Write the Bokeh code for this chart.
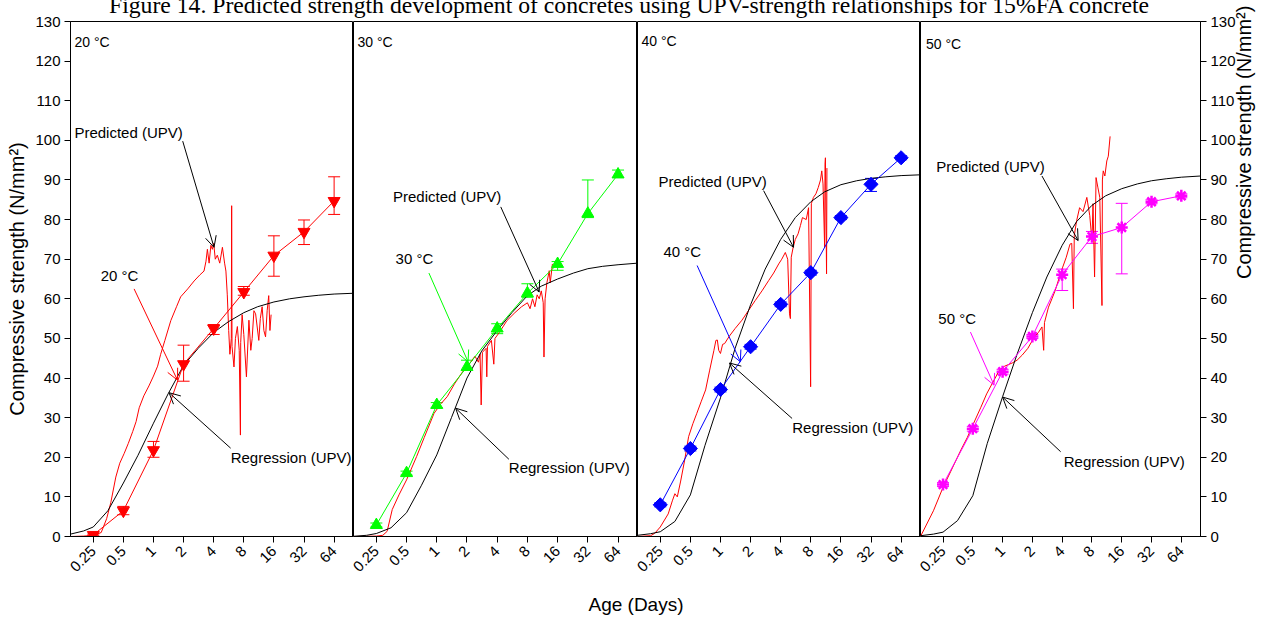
import math
from bokeh.plotting import figure
from bokeh.models import (ColumnDataSource, FixedTicker, CustomJSTickFormatter, Whisker, TeeHead,
                          Arrow, OpenHead, Label, Div, Range1d)
from bokeh.layouts import row, column
from bokeh.embed import file_html
from bokeh.resources import INLINE

FONT = "Liberation Sans"
TITLE = "Figure 14. Predicted strength development of concretes using UPV-strength relationships for 15%FA concrete"
Y_LABEL = "Compressive strength (N/mm²)"

# ---------------- data ----------------
ages = [0.25, 0.5, 1, 2, 4, 8, 16, 32, 64]
age_tick_labels = ["0.25", "0.5", "1", "2", "4", "8", "16", "32", "64"]
y_ticks = list(range(0, 131, 10))

# measured compressive strength (mean, lower, upper)
str_20 = [0.4, 6.5, 21.8, 43.5, 52.5, 61.7, 70.9, 76.9, 84.7]
lo_20 = [0.2, 5.5, 20.0, 39.2, 51.0, 60.9, 65.7, 73.7, 81.3]
hi_20 = [0.6, 7.6, 24.0, 48.3, 53.5, 63.1, 75.9, 79.9, 90.8]

str_30 = [2.9, 16.0, 33.2, 42.8, 52.5, 61.4, 68.8, 81.5, 91.4]
lo_30 = [2.4, 15.5, 32.5, 42.0, 51.2, 60.4, 67.2, 80.5, 90.6]
hi_30 = [3.4, 16.5, 33.8, 44.5, 53.7, 63.8, 69.4, 90.0, 92.5]

str_40 = [8.0, 22.2, 37.1, 47.9, 58.6, 66.6, 80.5, 88.9, 95.6]
lo_40 = [7.5, 21.6, 36.5, 47.3, 58.0, 66.0, 80.0, 87.1, 95.1]
hi_40 = [8.5, 22.8, 37.7, 48.5, 59.2, 67.2, 81.0, 90.4, 96.1]

str_50 = [13.1, 27.2, 41.6, 50.5, 66.1, 75.7, 78.0, 84.5, 86.0]
lo_50 = [12.6, 26.6, 41.0, 50.0, 62.1, 74.0, 66.3, 84.0, 85.5]
hi_50 = [13.6, 27.8, 42.2, 51.0, 67.5, 77.0, 84.1, 85.0, 86.5]

# regression (UPV) curves
reg_age = [0.148, 0.2, 0.25, 0.35, 0.5, 0.7, 1, 1.4, 2, 2.8, 4, 5.6, 8, 11, 16, 23, 32, 45, 64, 100]
reg_20 = [0.6, 1.4, 2.4, 6.5, 13.5, 20.5, 28.6, 36.0, 43.2, 47.5, 51.5, 54.2, 56.5, 58.0, 59.2, 60.0, 60.5, 60.9, 61.2, 61.4]
reg_30 = [0.05, 0.3, 0.75, 2.2, 6.0, 12.8, 20.6, 30.0, 40.0, 46.8, 52.0, 56.5, 60.8, 63.2, 65.0, 66.5, 67.6, 68.2, 68.6, 69.0]
reg_40 = [0.3, 0.7, 1.2, 3.8, 10.5, 23.0, 35.0, 47.5, 58.5, 67.5, 75.0, 80.5, 84.5, 87.0, 88.8, 89.8, 90.4, 90.8, 91.1, 91.3]
reg_50 = [0.2, 0.6, 1.1, 4.0, 10.3, 23.5, 35.3, 46.0, 56.5, 65.5, 73.5, 79.5, 83.6, 86.0, 87.8, 89.0, 89.8, 90.3, 90.7, 91.0]

# predicted (UPV) traces
pred_age_20 = [0.148, 0.2, 0.25, 0.3, 0.34, 0.374, 0.42, 0.46, 0.51, 0.56, 0.62, 0.67, 0.72, 0.8, 0.9, 1.0,
               1.1, 1.18, 1.3, 1.49, 1.7, 1.87, 2.2, 2.55, 2.9, 3.2, 3.35, 3.46, 3.6, 3.75, 3.88, 4.0, 4.15,
               4.35, 4.6, 4.89, 5.14, 5.3, 5.47, 5.65, 5.81, 6.0, 6.05, 6.1, 6.38, 6.6, 6.9, 7.2, 7.4, 7.45,
               7.7, 8.0, 8.5, 9.0, 9.4, 9.7, 10.1, 10.5, 11.3, 11.7, 12.2, 12.7, 13.2, 13.7, 14.2, 14.6, 15.0]
pred_20 = [0.0, 0.1, 0.3, 1.0, 4.5, 8.5, 15.0, 18.5, 21.0, 23.5, 26.5, 29.0, 32.5, 35.5, 38.0, 40.5,
           43.0, 46.0, 49.5, 54.5, 58.0, 60.5, 62.5, 64.5, 66.0, 67.0, 69.5, 72.5, 69.0, 73.5, 72.5, 74.0, 70.0,
           71.0, 69.0, 73.0, 69.0, 67.0, 61.0, 52.0, 46.0, 50.0, 83.5, 48.0, 42.8, 50.0, 53.0, 47.0, 25.6, 49.0,
           56.0, 51.0, 40.3, 54.6, 47.0, 50.0, 57.0, 56.2, 49.5, 55.0, 58.0, 52.0, 50.4, 57.0, 60.8, 52.0, 56.0]

pred_age_30 = [0.148, 0.25, 0.29, 0.32, 0.36, 0.42, 0.5, 0.63, 0.75, 0.94, 1.1, 1.27, 1.5, 1.8, 2.1, 2.4,
               2.6, 2.7, 2.77, 2.85, 3.1, 3.15, 3.2, 3.5, 3.7, 3.8, 4.2, 5.0, 6.0, 7.0, 8.0, 8.5, 9.0, 9.5,
               10.0, 10.5, 11.0, 11.5, 11.7, 12.0, 12.5, 13.2, 13.5, 14.2]
pred_30 = [0.0, 0.1, 0.3, 1.3, 6.8, 10.5, 14.3, 20.2, 25.0, 31.1, 33.5, 35.3, 38.5, 41.5, 43.5, 45.5,
           44.0, 46.0, 33.2, 46.5, 47.5, 40.3, 48.0, 49.5, 43.5, 50.0, 51.5, 54.5, 56.5, 58.0, 59.0, 57.5, 60.0, 58.0,
           61.0, 60.0, 62.0, 59.0, 45.3, 60.0, 64.0, 67.1, 64.0, 68.8]

pred_age_40 = [0.148, 0.2, 0.22, 0.25, 0.3, 0.33, 0.35, 0.37, 0.4, 0.44, 0.48, 0.53, 0.58, 0.64, 0.71, 0.78,
               0.86, 0.9, 0.93, 0.96, 1.0, 1.05, 1.1, 1.22, 1.4, 1.64, 1.9, 2.23, 2.6, 3.03, 3.4, 3.82, 4.1,
               4.45, 4.7, 4.9, 5.0, 5.1, 5.33, 5.6, 5.97, 6.3, 6.6, 7.2, 7.6, 7.97, 8.1, 8.5, 9.0, 9.5, 10.0,
               10.3, 10.6, 11.0, 11.1, 11.2, 11.5, 11.6]
pred_40 = [0.0, 0.2, 0.8, 2.4, 5.7, 9.0, 10.8, 10.0, 14.0, 19.5, 25.2, 28.5, 31.1, 34.0, 37.0, 42.0,
           47.0, 49.5, 49.6, 47.0, 46.2, 48.5, 48.7, 50.5, 52.5, 54.6, 57.0, 59.6, 62.0, 64.6, 66.5, 68.8, 70.0,
           71.7, 70.0, 56.2, 55.0, 70.5, 73.0, 75.0, 76.4, 78.5, 80.5, 80.0, 83.0, 37.8, 84.0, 85.6, 86.5, 88.1, 90.0,
           92.3, 89.0, 73.0, 94.0, 95.6, 66.3, 93.0]

pred_age_50 = [0.148, 0.2, 0.25, 0.3, 0.38, 0.44, 0.51, 0.6, 0.69, 0.8, 0.93, 1.05, 1.25, 1.4, 1.58, 1.8,
               2.1, 2.3, 2.5, 2.6, 2.65, 2.91, 3.15, 3.4, 3.7, 4.05, 4.4, 4.8, 5.0, 5.2, 5.3, 5.6, 6.0, 6.5,
               7.1, 7.6, 8.0, 8.2, 8.5, 8.8, 9.2, 9.6, 10.1, 10.2, 10.4, 10.8, 11.3, 11.7, 12.2]
pred_50 = [0.0, 6.5, 12.4, 16.5, 21.9, 25.0, 28.6, 32.5, 36.0, 39.0, 42.0, 43.0, 43.8, 44.5, 45.8, 47.5,
           50.4, 51.5, 52.9, 47.0, 54.0, 57.9, 60.0, 62.1, 65.0, 68.0, 70.5, 73.8, 74.0, 57.5, 76.0, 79.7, 83.0, 82.0,
           85.6, 81.0, 74.7, 84.0, 65.5, 90.6, 88.0, 85.6, 58.3, 90.0, 92.3, 91.0, 94.8, 96.0, 101.0]

panel_temps = ["20 °C", "30 °C", "40 °C", "50 °C"]
series_colors = ["#ff0000", "#00ff00", "#0000ff", "#ff00ff"]

# annotation anchor points (age in days, strength)
pred_text_pos = [(0.162, 102.1), (0.366, 85.7), (0.24, 89.5), (0.214, 93.5)]
pred_arrow = [(1.96, 99.8, 4.03, 73.0), (4.34, 83.2, 10.48, 61.7), (2.7, 87.3, 5.38, 73.0), (2.5, 91.0, 5.8, 74.7)]
temp_text_pos = [(0.297, 65.9), (0.389, 70.2), (0.269, 71.9), (0.224, 55.1)]
temp_arrow = [(0.64, 62.5, 1.735, 39.5), (0.835, 66.5, 2.05, 44.1), (0.584, 68.4, 1.58, 44.1), (0.473, 51.6, 0.82, 38.2)]
reg_text_pos = [(5.91, 19.9), (5.22, 17.3), (5.22, 27.4), (4.15, 18.9)]
reg_arrow = [(5.91, 22.3, 1.43, 36.3), (5.23, 19.5, 1.54, 32.4), (5.2, 29.8, 1.23, 43.8), (3.86, 21.4, 1.0, 35.2)]
label_pos = [(0.162, 124.7), (0.162, 124.7), (0.162, 125.0), (0.168, 124.2)]

means = [str_20, str_30, str_40, str_50]
lows = [lo_20, lo_30, lo_40, lo_50]
highs = [hi_20, hi_30, hi_40, hi_50]
regs = [reg_20, reg_30, reg_40, reg_50]
pred_ages = [pred_age_20, pred_age_30, pred_age_40, pred_age_50]
preds = [pred_20, pred_30, pred_40, pred_50]

# ---------------- layout geometry ----------------
BT, FH, BB = 19, 515, 54
H = BT + FH + BB
OV = 14                      # overlap of panels 2-4 into the previous panel's area (transparent)
frame_w = [283, 284, 283, 285]
left_b = [70, OV, OV, OV]
right_b = [0, 0, 0, 63]

tick_fmt_code = "const i = tvals.indexOf(tick); return i >= 0 ? tlabels[i] : String(tick);"


def style_text(lbl, size="15px"):
    lbl.text_font = FONT
    lbl.text_font_size = size
    lbl.text_color = "black"
    lbl.text_baseline = "middle"
    lbl.text_align = "left"


figs = []
for k in range(4):
    yloc = "left" if k == 0 else ("right" if k == 3 else None)
    p = figure(width=left_b[k] + frame_w[k] + right_b[k], height=H, x_axis_type="log", y_axis_location=yloc,
               x_range=Range1d(0.148, 100), y_range=Range1d(0, 130),
               output_backend="svg", toolbar_location=None,
               min_border_top=BT, min_border_bottom=BB,
               min_border_left=left_b[k], min_border_right=right_b[k])
    if k > 0:
        p.margin = (0, 0, 0, -OV)
    p.border_fill_color = None
    p.outline_line_color = "black"
    p.outline_line_width = 1
    p.outline_line_alpha = 1
    p.grid.visible = False
    p.background_fill_color = "white"

    xa = p.xaxis[0]
    xa.ticker = FixedTicker(ticks=ages)
    xa.formatter = CustomJSTickFormatter(args=dict(tvals=ages, tlabels=age_tick_labels), code=tick_fmt_code)
    xa.major_label_orientation = math.pi / 4
    xa.minor_tick_line_color = None
    xa.major_tick_in = 0
    xa.major_tick_out = 6
    xa.major_label_standoff = 6
    xa.axis_line_color = "black"
    xa.major_tick_line_color = "black"
    xa.major_label_text_font = FONT
    xa.major_label_text_font_size = "15px"
    xa.major_label_text_color = "black"

    if yloc is not None:
        ya = p.yaxis[0]
        ya.ticker = FixedTicker(ticks=y_ticks)
        ya.minor_tick_line_color = None
        ya.major_tick_in = 0
        ya.major_tick_out = 6
        ya.major_label_standoff = 4
        ya.axis_line_color = "black"
        ya.major_label_text_font = FONT
        ya.major_label_text_font_size = "15px"
        ya.major_label_text_color = "black"
        ya.axis_label = Y_LABEL
        ya.axis_label_text_font = FONT
        ya.axis_label_text_font_size = "20px"
        ya.axis_label_text_font_style = "normal"
        ya.axis_label_text_color = "black"
        if k == 0:
            ya.axis_label_standoff = 4
        else:
            ya.axis_label_standoff = 5
            ya.axis_label_orientation = math.pi / 2

    col = series_colors[k]
    # predicted (UPV) trace
    p.line(pred_ages[k], preds[k], line_color="#ff0000", line_width=1)
    # regression curve
    p.line(reg_age, regs[k], line_color="black", line_width=1)

    src = ColumnDataSource(dict(age=ages, s=means[k], lo=lows[k], hi=highs[k]))
    p.add_layout(Whisker(source=src, base="age", lower="lo", upper="hi", line_color=col, line_width=1,
                         upper_head=TeeHead(size=12, line_color=col, line_width=1),
                         lower_head=TeeHead(size=12, line_color=col, line_width=1)))
    p.line("age", "s", source=src, line_color=col, line_width=1)
    if k == 0:
        p.scatter("age", "s", source=src, marker="inverted_triangle", size=12, fill_color=col, line_color=col)
    elif k == 1:
        p.scatter("age", "s", source=src, marker="triangle", size=12, fill_color=col, line_color=col)
    elif k == 2:
        p.scatter("age", "s", source=src, marker="square", angle=math.pi / 4, size=10, fill_color=col, line_color=col)
    else:
        p.scatter("age", "s", source=src, marker="asterisk", size=12, line_color=col, line_width=2.5)

    # annotations
    lx, ly = label_pos[k]
    lab = Label(x=lx, y=ly, text=panel_temps[k])
    style_text(lab, "14px")
    p.add_layout(lab)

    tx, ty = pred_text_pos[k]
    lab = Label(x=tx, y=ty, text="Predicted (UPV)")
    style_text(lab)
    p.add_layout(lab)
    x0, y0, x1, y1 = pred_arrow[k]
    p.add_layout(Arrow(x_start=x0, y_start=y0, x_end=x1, y_end=y1, line_color="black", line_width=1,
                       end=OpenHead(size=11, line_color="black", line_width=1)))

    tx, ty = temp_text_pos[k]
    lab = Label(x=tx, y=ty, text=panel_temps[k])
    style_text(lab)
    p.add_layout(lab)
    x0, y0, x1, y1 = temp_arrow[k]
    p.add_layout(Arrow(x_start=x0, y_start=y0, x_end=x1, y_end=y1, line_color=col, line_width=1,
                       end=OpenHead(size=11, line_color=col, line_width=1)))

    tx, ty = reg_text_pos[k]
    lab = Label(x=tx, y=ty, text="Regression (UPV)")
    style_text(lab)
    p.add_layout(lab)
    x0, y0, x1, y1 = reg_arrow[k]
    p.add_layout(Arrow(x_start=x0, y_start=y0, x_end=x1, y_end=y1, line_color="black", line_width=1,
                       end=OpenHead(size=11, line_color="black", line_width=1)))

    figs.append(p)

title_div = Div(
    text=('<div style="position:relative;top:-7px;width:1258px;text-align:center;'
          "font-family:'Liberation Serif','Times New Roman',serif;font-size:23.7px;line-height:24px;"
          'white-space:nowrap;color:black;">' + TITLE + '</div>'),
    width=1258, height=2, margin=0, styles={"overflow": "visible"})

xlabel_div = Div(
    text=('<div style="position:relative;top:5px;width:1272px;text-align:center;'
          "font-family:'Liberation Sans',Arial,sans-serif;font-size:19px;line-height:20px;"
          'white-space:nowrap;color:black;">Age (Days)</div>'),
    width=1258, height=24, margin=0, styles={"overflow": "visible"})

layout = column(title_div, row(*figs, spacing=0), xlabel_div, spacing=0)

with open("out.html", "w") as f:
    f.write(file_html(layout, INLINE))
